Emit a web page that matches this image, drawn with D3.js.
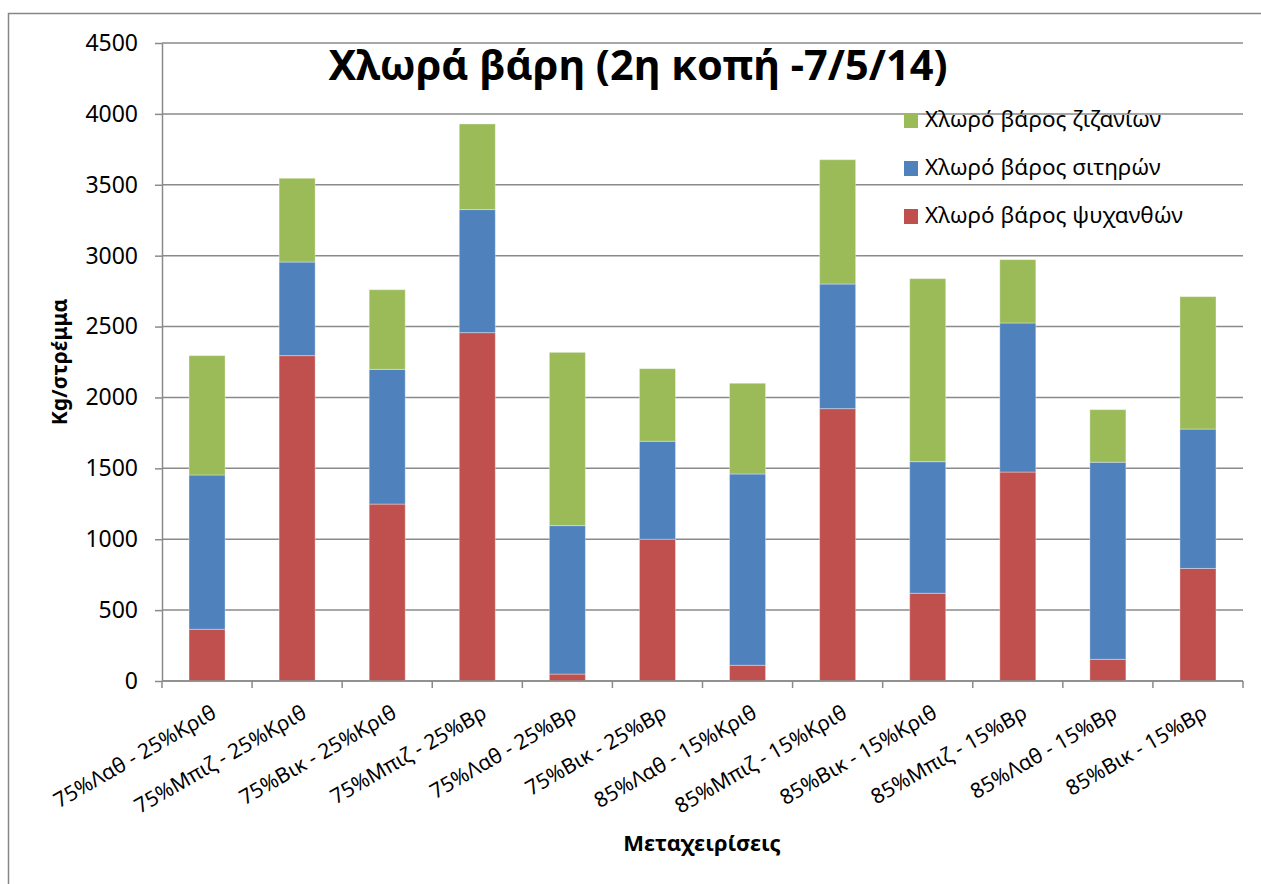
<!DOCTYPE html>
<html>
<head>
<meta charset="utf-8">
<script src="https://cdn.jsdelivr.net/npm/d3@7"></script>
<style>
  body { margin: 0; background: #fff; }
  svg { display: block; font-family: "Noto Sans", "DejaVu Sans", sans-serif; }
</style>
</head>
<body>
<svg id="chart" width="1261" height="884"></svg>
<script>
// categories (treatments)
const categories = [
  "75%Λαθ - 25%Κριθ", "75%Μπιζ - 25%Κριθ", "75%Βικ - 25%Κριθ", "75%Μπιζ - 25%Βρ",
  "75%Λαθ - 25%Βρ", "75%Βικ - 25%Βρ", "85%Λαθ - 15%Κριθ", "85%Μπιζ - 15%Κριθ",
  "85%Βικ - 15%Κριθ", "85%Μπιζ - 15%Βρ", "85%Λαθ - 15%Βρ", "85%Βικ - 15%Βρ"
];

// series values, kg per stremma
const legumes = [365, 2295, 1248, 2457, 49, 1000, 111, 1921, 619, 1474, 153, 794];
const cereals = [1088, 660, 950, 868, 1047, 691, 1349, 879, 928, 1051, 1390, 983];
const weeds = [842, 591, 562, 604, 1222, 512, 640, 877, 1291, 447, 371, 934];

const seriesNames = ["Χλωρό βάρος ψυχανθών", "Χλωρό βάρος σιτηρών", "Χλωρό βάρος ζιζανίων"];
const seriesColors = ["#C0504D", "#4F81BD", "#9BBB59"];
const yTicks = [0, 500, 1000, 1500, 2000, 2500, 3000, 3500, 4000, 4500];

const svg = d3.select("#chart");

// plot area
const plot = { left: 162, right: 1243, top: 43, bottom: 681 };

// outer chart border
svg.append("rect")
  .attr("x", 8.5).attr("y", 13.5)
  .attr("width", 1300).attr("height", 1000)
  .attr("fill", "none").attr("stroke", "#868686").attr("stroke-width", 1.5);

const x = d3.scaleBand()
  .domain(categories)
  .range([plot.left, plot.right])
  .paddingInner(0.6)
  .paddingOuter(0.3);

const y = d3.scaleLinear().domain([0, 4500]).range([plot.bottom, plot.top]);

// gridlines
svg.append("g")
  .selectAll("line")
  .data(yTicks)
  .enter()
  .append("line")
  .attr("x1", plot.left).attr("x2", plot.right)
  .attr("y1", (d) => y(d)).attr("y2", (d) => y(d))
  .attr("stroke", "#8a8a8a").attr("stroke-width", 1.5);

// table for stacking
const table = categories.map((c, i) => ({
  name: c, s0: legumes[i], s1: cereals[i], s2: weeds[i]
}));
const stack = d3.stack().keys(["s0", "s1", "s2"]);
const layers = stack(table);

svg.append("g")
  .selectAll("g")
  .data(layers)
  .enter()
  .append("g")
  .attr("fill", (d, i) => seriesColors[i])
  .selectAll("rect")
  .data((d) => d)
  .enter()
  .append("rect")
  .attr("x", (d) => x(d.data.name))
  .attr("width", x.bandwidth())
  .attr("y", (d) => y(d[1]))
  .attr("height", (d) => y(d[0]) - y(d[1]))
  .attr("stroke", "rgba(255,255,255,0.35)")
  .attr("stroke-width", 1);

// y axis
const yAxis = d3.axisLeft(y)
  .tickValues(yTicks)
  .tickFormat(d3.format("d"))
  .tickSize(7).tickPadding(17).tickSizeOuter(0);
const yg = svg.append("g")
  .attr("transform", "translate(" + plot.left + ",0)")
  .call(yAxis);
yg.select(".domain").attr("stroke", "#8a8a8a").attr("stroke-width", 1.5);
yg.selectAll(".tick line").attr("stroke", "#8a8a8a").attr("stroke-width", 1.5);
yg.selectAll(".tick text")
  .attr("font-size", 23).attr("fill", "#000")
  .style("font-family", "'Noto Sans', sans-serif");

// x axis line and ticks at category boundaries
const step = x.step();
const boundaries = d3.range(categories.length + 1).map((i) => plot.left + i * step);
svg.append("line")
  .attr("x1", plot.left).attr("x2", plot.right)
  .attr("y1", plot.bottom).attr("y2", plot.bottom)
  .attr("stroke", "#8a8a8a").attr("stroke-width", 1.5);
svg.append("g")
  .selectAll("line")
  .data(boundaries)
  .enter()
  .append("line")
  .attr("x1", (d) => d).attr("x2", (d) => d)
  .attr("y1", plot.bottom).attr("y2", plot.bottom + 7)
  .attr("stroke", "#8a8a8a").attr("stroke-width", 1.5);

// rotated category labels
svg.append("g")
  .selectAll("text")
  .data(categories)
  .enter()
  .append("text")
  .attr("transform", (d) => "translate(" + (x(d) + x.bandwidth() / 2 + 8) + "," + (plot.bottom + 31) + ") rotate(-30)")
  .attr("text-anchor", "end")
  .attr("dominant-baseline", "middle")
  .attr("font-size", 21)
  .attr("fill", "#000")
  .text((d) => d);

// title
svg.append("text")
  .attr("x", 638).attr("y", 80)
  .attr("text-anchor", "middle")
  .attr("font-size", 41.5).attr("font-weight", "bold")
  .text("Χλωρά βάρη (2η κοπή -7/5/14)");

// axis titles
svg.append("text")
  .attr("transform", "translate(67,362) rotate(-90)")
  .attr("text-anchor", "middle")
  .attr("font-size", 21).attr("font-weight", "bold")
  .text("Kg/στρέμμα");

svg.append("text")
  .attr("x", 702).attr("y", 851)
  .attr("text-anchor", "middle")
  .attr("font-size", 22).attr("font-weight", "bold")
  .text("Μεταχειρίσεις");

// legend (reverse order, top = weeds)
const legendOrder = [2, 1, 0];
const legend = svg.append("g")
  .selectAll("g")
  .data(legendOrder)
  .enter()
  .append("g")
  .attr("transform", (d, i) => "translate(904," + (113 + i * 48) + ")");
legend.append("rect")
  .attr("width", 14).attr("height", 15)
  .attr("fill", (d) => seriesColors[d]);
legend.append("text")
  .attr("x", 21).attr("y", 8)
  .attr("dominant-baseline", "middle")
  .attr("font-size", 22.5)
  .text((d) => seriesNames[d]);
</script>
</body>
</html>
